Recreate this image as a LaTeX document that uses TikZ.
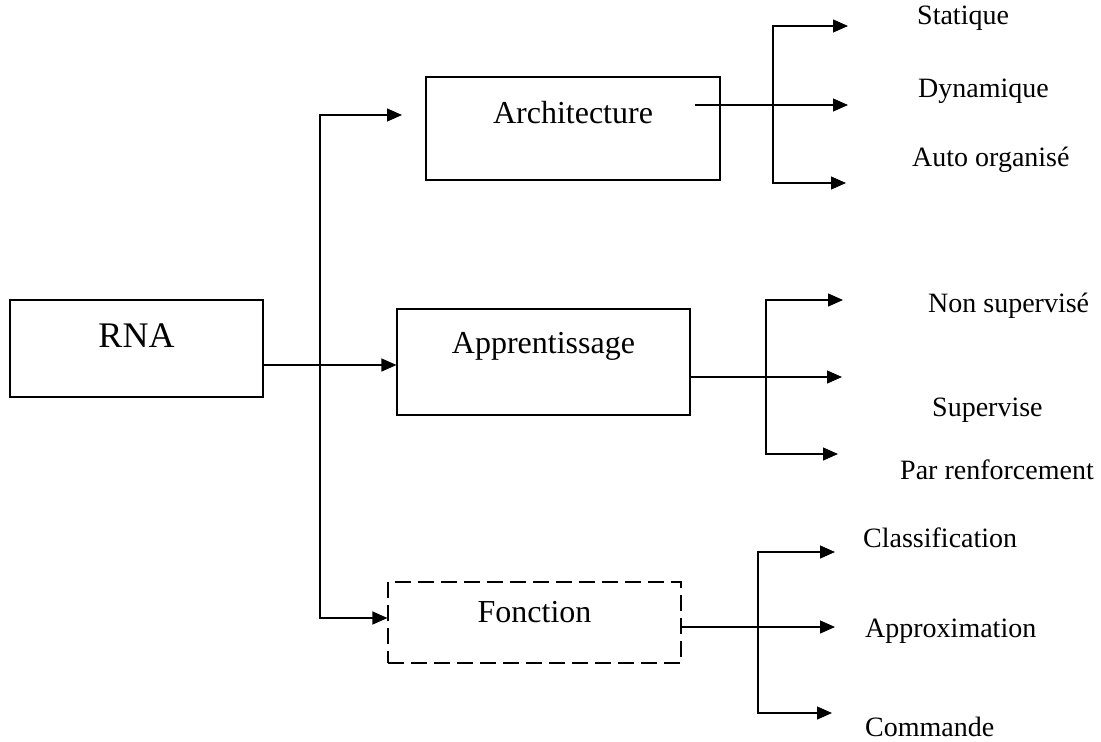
\documentclass[tikz,border=0pt]{standalone}
\usepackage{fontspec}
\setmainfont{Liberation Serif}
\usetikzlibrary{arrows.meta,calc}
\begin{document}
\begin{tikzpicture}[x=1pt,y=-1pt,
  box/.style={draw,line width=1.1pt,rectangle,inner sep=0pt,font=\fontsize{32}{38}\selectfont},
  conn/.style={line width=1.2pt},
  arr/.style={conn,-{Triangle[length=15pt,width=13pt]}},
  leaf/.style={anchor=base west,inner sep=0pt,font=\fontsize{28}{34}\selectfont}]
\useasboundingbox (0,0) rectangle (1101,742);
% main boxes
\node[box,minimum width=253pt,minimum height=97pt,font=\fontsize{36}{42}\selectfont] (rna) at (136.5,348.5) {\smash{\raisebox{1.5pt}{RNA}}};
\node[box,minimum width=294pt,minimum height=103pt] (arch) at (573,128.5) {\smash{\raisebox{5.5pt}{Architecture}}};
\node[box,minimum width=293pt,minimum height=106pt] (appr) at (543.5,362) {\smash{\raisebox{9pt}{Apprentissage}}};
\node[box,dash pattern=on 16pt off 7pt,minimum width=293pt,minimum height=81pt] (fonc) at (534.5,622.5) {\smash{Fonction}};
% left distribution
\coordinate (sp) at (320,365);
\coordinate (archin) at (402,115);
\draw[arr] (rna.east |- sp) -- (appr.west |- sp);
\draw[arr] (sp) |- (archin);
\draw[arr] (sp) |- ($(fonc.west)+(0,-4.5)$);
% architecture branch
\coordinate (aout) at (695,105);
\coordinate (av) at (773,105);
\coordinate (t1) at (848,26);
\coordinate (t2) at (848,105);
\coordinate (t3) at (846,183);
\draw[arr] (aout) -- (t2);
\draw[arr] (av) |- (t1);
\draw[arr] (av) |- (t3);
% apprentissage branch
\coordinate (pv) at (766,377);
\coordinate (p1) at (843,300);
\coordinate (p2) at (842,377);
\coordinate (p3) at (838,454);
\draw[arr] (appr.east |- pv) -- (p2);
\draw[arr] (pv) |- (p1);
\draw[arr] (pv) |- (p3);
% fonction branch
\coordinate (fv) at (758,627);
\coordinate (f1) at (835,552);
\coordinate (f2) at (835,627);
\coordinate (f3) at (832,713);
\draw[arr] (fonc.east |- fv) -- (f2);
\draw[arr] (fv) |- (f1);
\draw[arr] (fv) |- (f3);
% leaf labels
\node[leaf] (l1) at (917,24) {Statique};
\node[leaf] (l2) at (918,97) {Dynamique};
\node[leaf] (l3) at (912,166) {Auto organisé};
\node[leaf] (l4) at (928,312) {Non supervisé};
\node[leaf] (l5) at (932,416) {Supervise};
\node[leaf] (l6) at (900,479) {Par  renforcement};
\node[leaf] (l7) at (863,547) {Classification};
\node[leaf] (l8) at (865,637) {Approximation};
\node[leaf] (l9) at (865,736) {Commande};
\end{tikzpicture}
\end{document}
